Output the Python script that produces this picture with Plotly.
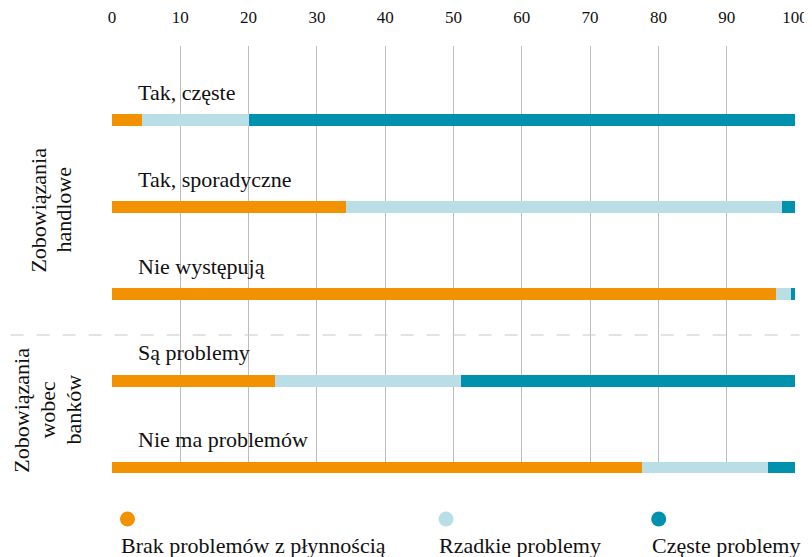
import plotly.graph_objects as go

categories = ["Tak, częste", "Tak, sporadyczne", "Nie występują", "Są problemy", "Nie ma problemów"]
series_names = ["Brak problemów z płynnością", "Rzadkie problemy", "Częste problemy"]
brak = [4.4, 34.3, 97.2, 23.9, 77.6]
rzadkie = [15.6, 63.8, 2.2, 27.2, 18.4]
czeste = [80.0, 1.9, 0.6, 48.9, 4.0]
colors = ["#F39200", "#B9DEE6", "#0091AE"]
group_lines = [["Zobowiązania", "handlowe"], ["Zobowiązania", "wobec", "banków"]]
tick_vals = [0, 10, 20, 30, 40, 50, 60, 70, 80, 90, 100]

FONT = "Liberation Serif"
TXT = "#111111"
ypos = list(range(len(categories)))

# the page places the figure 8px from the top-left corner
OFF = 8
W, H = 804, 549
ml, mr, mt, mb = 103.5, 16.5, 38, 84
pw, ph = W - ml - mr, H - mt - mb

def px_x(sx):
    return (sx - OFF - ml) / pw

def px_y(sy):
    return (H - mb - (sy - OFF)) / ph

fig = go.Figure()
for name, vals, col in zip(series_names, [brak, rzadkie, czeste], colors):
    fig.add_trace(go.Bar(
        y=ypos, x=vals, name=name, orientation="h",
        marker=dict(color=col, line=dict(width=0)),
        width=0.135, showlegend=False,
    ))

annotations = []
for i, cat in enumerate(categories):
    annotations.append(dict(
        x=3.5, y=i - 0.32, xref="x", yref="y", text=cat, showarrow=False,
        xanchor="left", yanchor="middle", font=dict(family=FONT, size=22, color=TXT),
    ))

group_x = [[37, 62], [20, 46, 72]]
group_y = [210, 410]
for lines, xs, cy in zip(group_lines, group_x, group_y):
    for line, lx in zip(lines, xs):
        annotations.append(dict(x=px_x(lx), y=px_y(cy), xref="paper", yref="paper", text=line,
                                showarrow=False, textangle=-90, xanchor="center", yanchor="middle",
                                font=dict(family=FONT, size=22, color=TXT)))

# legend (dots above text)
leg_x = [119, 437, 650]
leg_dot_x = [127, 446, 659]
shapes = []
for name, col, lx, dx in zip(series_names, colors, leg_x, leg_dot_x):
    shapes.append(dict(type="circle", xref="paper", yref="paper", xsizemode="pixel", ysizemode="pixel",
                       xanchor=px_x(dx), yanchor=px_y(519), x0=-7.5, x1=7.5, y0=-7.5, y1=7.5,
                       fillcolor=col, line=dict(width=0)))
    annotations.append(dict(x=px_x(lx), y=px_y(545), xref="paper", yref="paper", text=name, showarrow=False,
                            xanchor="left", yanchor="middle", font=dict(family=FONT, size=22, color=TXT)))

# dashed separator
shapes.append(dict(type="line", xref="paper", yref="paper", x0=px_x(10), x1=px_x(800),
                   y0=px_y(335), y1=px_y(335), line=dict(color="#C8C8C8", width=1, dash="13px,13px")))

fig.update_layout(
    barmode="stack",
    width=W, height=H,
    margin=dict(l=ml, r=mr, t=mt, b=mb, autoexpand=False),
    plot_bgcolor="white", paper_bgcolor="white",
    xaxis=dict(side="top", range=[0, 100], tickvals=tick_vals, showgrid=True, gridcolor="#BDBDBD",
               gridwidth=1, zeroline=False, showline=False, ticks="outside", ticklen=15,
               tickcolor="rgba(0,0,0,0)", tickfont=dict(family=FONT, size=17, color=TXT),
               automargin=False, fixedrange=True),
    yaxis=dict(range=[4.063, -0.853], showticklabels=False, showgrid=False, zeroline=False,
               automargin=False, fixedrange=True),
    annotations=annotations,
    shapes=shapes,
    bargap=0,
)

fig.write_html("out.html")
